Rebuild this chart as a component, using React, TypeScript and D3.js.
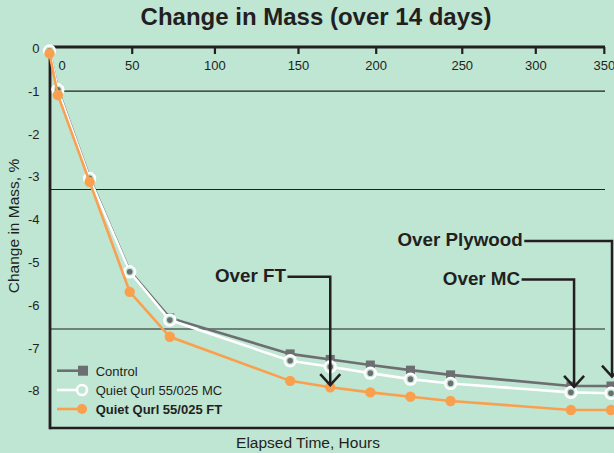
import React from "react";
import * as d3 from "d3";

// ---- data (hours, % change in mass) ----
const hours = [0, 5, 24, 48, 72, 144, 168, 192, 216, 240, 312, 336];
const controlVals = [-0.05, -0.95, -3.02, -5.2, -6.3, -7.14, -7.27, -7.4, -7.52, -7.63, -7.89, -7.89];
const mcVals = [-0.06, -0.97, -3.04, -5.22, -6.35, -7.3, -7.44, -7.59, -7.73, -7.83, -8.04, -8.06];
const ftVals = [-0.12, -1.09, -3.12, -5.69, -6.74, -7.77, -7.92, -8.04, -8.14, -8.24, -8.45, -8.45];

const seriesNames = ["Control", "Quiet Qurl 55/025 MC", "Quiet Qurl 55/025 FT"];

// x tick labels and where (in hours) they sit on the chart
const xTickLabels = ["0", "50", "100", "150", "200", "250", "300", "350"];
const xTickAt = [7.5, 49.5, 99, 149, 195.5, 247, 291, 332];
const yTicks = [0, -1, -2, -3, -4, -5, -6, -7, -8];
const refLines = [-1, -3.3, -6.56];

const annotations = [
  { label: "Over FT", textEndHour: 141.5, lineVal: -5.34, tipHour: 168, tipVal: -7.87 },
  { label: "Over Plywood", textEndHour: 283.2, lineVal: -4.5, tipHour: 336.6, tipVal: -7.67 },
  { label: "Over MC", textEndHour: 281.6, lineVal: -5.4, tipHour: 313.9, tipVal: -7.91 },
];

const W = 614;
const H = 453;
const BG = "#bfe5d3";
const INK = "#231f20";
const GRAY = "#6d6e71";
const ORANGE = "#f9a04f";
const FONT = "'Liberation Sans', Arial, Helvetica, sans-serif";

export default function App() {
  const x = d3.scaleLinear().domain([0, 336]).range([49.5, 611]);
  const y = d3.scaleLinear().domain([0, -8]).range([48.3, 390.7]);

  const left = 50;
  const top = 47;
  const bottom = 428;
  const gridRight = 605;

  const line = d3
    .line<number>()
    .x((_, i) => x(hours[i]))
    .y((d) => y(d));

  const legendY = [370.7, 390, 409];

  return (
    <svg
      width={W}
      height={H}
      style={{ position: "absolute", left: 0, top: 0, background: BG }}
      fontFamily={FONT}
    >
      <rect x={0} y={0} width={W} height={H} fill={BG} />
      <text x={316} y={25} textAnchor="middle" fontSize={24} fontWeight="bold" fill={INK}>
        Change in Mass (over 14 days)
      </text>

      {/* reference lines */}
      {refLines.map((v, i) => (
        <line key={i} x1={left} x2={gridRight} y1={y(v)} y2={y(v)} stroke={INK} strokeWidth={1.1} />
      ))}

      {/* axes */}
      <line x1={left} x2={605} y1={top} y2={top} stroke={INK} strokeWidth={2.8} />
      <line x1={left} x2={W} y1={bottom} y2={bottom} stroke={INK} strokeWidth={2.6} />
      <line x1={left} x2={left} y1={top - 1.4} y2={bottom + 1.3} stroke={INK} strokeWidth={2.8} />

      {xTickAt.map((h, i) => (
        <g key={i}>
          {i > 0 && (
            <line x1={x(h)} x2={x(h)} y1={top} y2={top + 7} stroke={INK} strokeWidth={2.2} />
          )}
          <text x={x(h)} y={70} textAnchor="middle" fontSize={13} fill={INK}>
            {xTickLabels[i]}
          </text>
        </g>
      ))}

      {yTicks.map((v) => (
        <text key={v} x={39.5} y={y(v) + 4.6} textAnchor="end" fontSize={13} fill={INK}>
          {v}
        </text>
      ))}

      <text
        transform={`translate(19,226) rotate(-90)`}
        textAnchor="middle"
        fontSize={15.5}
        fill={INK}
      >
        Change in Mass, %
      </text>
      <text x={308} y={448} textAnchor="middle" fontSize={15.5} fill={INK}>
        Elapsed Time, Hours
      </text>

      {/* Control */}
      <path d={line(controlVals) || ""} fill="none" stroke={GRAY} strokeWidth={2.6} />
      {controlVals.map((v, i) => (
        <rect key={i} x={x(hours[i]) - 4.5} y={y(v) - 4.5} width={9} height={9} fill={GRAY} />
      ))}

      {/* MC */}
      <path d={line(mcVals) || ""} fill="none" stroke="#ffffff" strokeWidth={2.6} />
      {mcVals.map((v, i) => (
        <g key={i}>
          <circle cx={x(hours[i])} cy={y(v)} r={5.4} fill={BG} stroke="#ffffff" strokeWidth={2.6} />
          <circle cx={x(hours[i])} cy={y(v)} r={2.8} fill={GRAY} />
        </g>
      ))}

      {/* FT */}
      <path d={line(ftVals) || ""} fill="none" stroke={ORANGE} strokeWidth={2.6} />
      {ftVals.map((v, i) => (
        <circle key={i} cx={x(hours[i])} cy={y(v)} r={5.2} fill={ORANGE} />
      ))}

      {/* annotations */}
      {annotations.map((a, i) => {
        const tx = x(a.textEndHour);
        const ly = y(a.lineVal);
        const ax = x(a.tipHour);
        const ay = y(a.tipVal);
        return (
          <g key={i}>
            <text x={tx} y={ly + 5.4} textAnchor="end" fontSize={18.8} fontWeight="bold" fill={INK}>
              {a.label}
            </text>
            <path
              d={`M${tx + 1.5},${ly}H${ax}V${ay}`}
              fill="none"
              stroke={INK}
              strokeWidth={2.5}
            />
            <path
              d={`M${ax - 10},${ay - 11}L${ax},${ay}L${ax + 10},${ay - 11}`}
              fill="none"
              stroke={INK}
              strokeWidth={2.5}
            />
          </g>
        );
      })}

      {/* legend */}
      <g>
        <line x1={57} x2={83} y1={legendY[0]} y2={legendY[0]} stroke={GRAY} strokeWidth={2.6} />
        <rect x={78} y={legendY[0] - 5} width={10} height={10} fill={GRAY} />
        <text x={95.7} y={legendY[0] + 4.8} fontSize={13} fill={INK}>
          {seriesNames[0]}
        </text>

        <line x1={57} x2={82} y1={legendY[1]} y2={legendY[1]} stroke="#ffffff" strokeWidth={2.6} />
        <circle cx={82} cy={legendY[1]} r={5} fill={BG} stroke="#ffffff" strokeWidth={2.6} />
        <text x={95.7} y={legendY[1] + 4.8} fontSize={13} fill={INK}>
          {seriesNames[1]}
        </text>

        <line x1={57} x2={82} y1={legendY[2]} y2={legendY[2]} stroke={ORANGE} strokeWidth={2.6} />
        <circle cx={82} cy={legendY[2]} r={5} fill={ORANGE} />
        <text x={95.7} y={legendY[2] + 4.8} fontSize={13} fontWeight="bold" fill={INK}>
          {seriesNames[2]}
        </text>
      </g>
    </svg>
  );
}
